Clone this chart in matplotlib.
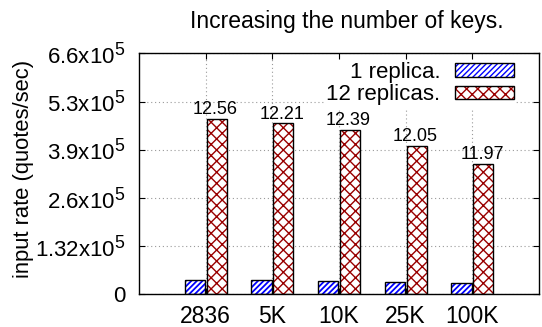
import matplotlib
matplotlib.use("Agg")
import matplotlib.pyplot as plt
from matplotlib.patches import Patch
from matplotlib.legend_handler import HandlerTuple
import numpy as np

try:
    import matplotlib._mathtext as _mt
    _mt.SHRINK_FACTOR = 0.8  # larger exponents on the tick labels
except Exception:
    pass

# Throughput for each key-space size
key_counts = ["2836", "5K", "10K", "25K", "100K"]
rate_12_replicas = [480000, 468000, 450000, 406000, 357000]
speedup = [12.56, 12.21, 12.39, 12.05, 11.97]
rate_1_replica = [r / s for r, s in zip(rate_12_replicas, speedup)]

y_ticks = [0, 132000, 264000, 396000, 528000, 660000]
y_tick_labels = ["0", r"1.32x$10^{5}$", r"2.6x$10^{5}$", r"3.9x$10^{5}$",
                 r"5.3x$10^{5}$", r"6.6x$10^{5}$"]

plt.rcParams["font.family"] = ["Liberation Sans", "DejaVu Sans"]
plt.rcParams["mathtext.fontset"] = "custom"
plt.rcParams["mathtext.rm"] = "Liberation Sans"
plt.rcParams["mathtext.it"] = "Liberation Sans:italic"
plt.rcParams["mathtext.bf"] = "Liberation Sans:bold"
plt.rcParams["hatch.linewidth"] = 1.0

W, H = 542, 327
fig = plt.figure(figsize=(W / 100, H / 100), dpi=100)
ax = fig.add_axes([139 / W, 1 - 294.3 / H, 400 / W, 241 / H])

x = np.arange(len(key_counts))
bw = 0.305
off = 0.165
blue = "#0000ff"
red = "#990000"
hatch_blue = "//////"
hatch_red = "xxx"

# hatched fills, then black outlines on top
with plt.rc_context({"hatch.linewidth": 1.3}):
    ax.bar(x - off, rate_1_replica, bw, color="white", edgecolor=blue,
           hatch=hatch_blue, linewidth=0, zorder=2)
ax.bar(x - off, rate_1_replica, bw, fill=False, edgecolor="black",
       linewidth=1.0, zorder=3)
ax.bar(x + off, rate_12_replicas, bw, color="white", edgecolor=red,
       hatch=hatch_red, linewidth=0, zorder=2)
ax.bar(x + off, rate_12_replicas, bw, fill=False, edgecolor="black",
       linewidth=1.0, zorder=3)

for xi, r, s in zip(x, rate_12_replicas, speedup):
    ax.annotate(f"{s:.2f}", (xi + off, r), xytext=(-1, 0.5),
                textcoords="offset points", ha="center", va="bottom",
                fontsize=13, zorder=4)

ax.set_xlim(-1, 5)
ax.set_ylim(0, 660000)
ax.set_xticks(x)
ax.set_xticklabels(key_counts)
ax.set_yticks(y_ticks)
ax.set_yticklabels(y_tick_labels)
ax.tick_params(axis="both", direction="in", length=4, width=0.8,
               top=True, right=True)
ax.tick_params(axis="x", pad=7.5, labelsize=16.5)
ax.tick_params(axis="y", pad=10, labelsize=16)

ax.grid(True, color="#9a9a9a", linestyle=(0, (1, 2.5)), linewidth=0.8,
        zorder=0)
ax.set_axisbelow(True)
for sp in ax.spines.values():
    sp.set_linewidth(1.0)
    sp.set_zorder(6)

ax.set_ylabel("input rate (quotes/sec)", fontsize=15.8)
ax.yaxis.set_label_coords((34 - 139) / 400, (294.3 - 169) / 241)
ax.set_title("Increasing the number of keys.", fontsize=16.5,
             x=(347 - 139) / 400, pad=18)

with plt.rc_context({"hatch.linewidth": 1.3}):
    hb = Patch(facecolor="white", edgecolor=blue, hatch=hatch_blue, linewidth=0)
h1 = (hb, Patch(fill=False, edgecolor="black", linewidth=1.0))
h2 = (Patch(facecolor="white", edgecolor=red, hatch=hatch_red, linewidth=0),
      Patch(fill=False, edgecolor="black", linewidth=1.0))
leg = ax.legend([h1, h2], ["1 replica.", "12 replicas."],
                handler_map={tuple: HandlerTuple(ndivide=1, pad=0)},
                loc="upper right", bbox_to_anchor=(0.9585, 1.0),
                markerfirst=False, fontsize=16, frameon=True,
                handlelength=2.65, handleheight=0.55, handletextpad=0.65,
                labelspacing=0.07, borderpad=0.1, borderaxespad=0.28,
                fancybox=False)
leg.get_frame().set_edgecolor("none")
leg.get_frame().set_facecolor("white")
leg.get_frame().set_alpha(1.0)
leg.set_zorder(5)

fig.savefig("out.png", dpi=100)
